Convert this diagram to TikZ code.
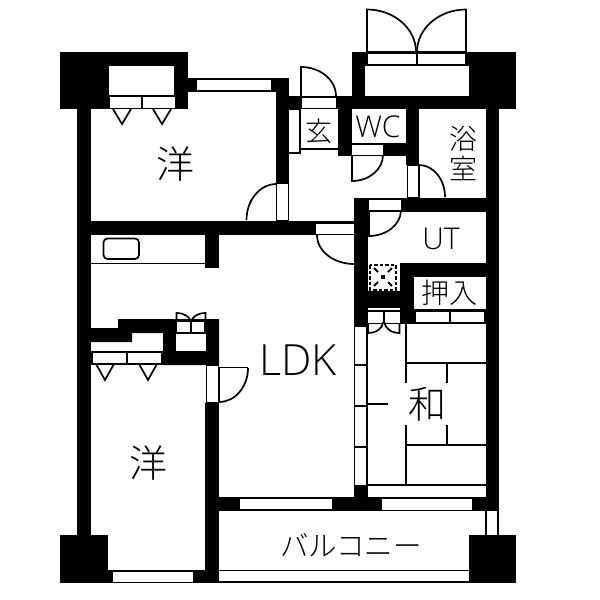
\documentclass[tikz,border=0pt]{standalone}
\usepackage{fontspec}
\newfontfamily\cjk{Noto Sans CJK JP Light}
\newfontfamily\latn{Open Sans Light}
\usepackage{tikz}

\tikzset{
  wall/.style={fill=black},
  gap/.style={fill=white},
  fit line/.style={draw=black,line width=1.5pt,fill=white},
  thin wall/.style={draw=black,line width=1.7pt},
  roomlabel/.style={inner sep=0pt,text=black}
}
\newcommand{\lblsize}[1]{\cjk\fontsize{#1}{#1}\selectfont}
\newcommand{\latsize}[1]{\latn\fontsize{#1}{#1}\selectfont}

\begin{document}
\begin{tikzpicture}[x=1pt,y=-1pt]
\useasboundingbox (0,0) rectangle (600,600);
\fill[white] (0,0) rectangle (600,600);
% walls
\fill[wall] (60,52) rectangle (188,109);
\fill[wall] (77,109) rectangle (91,535);
\fill[wall] (188,78) rectangle (289,92);
\fill[wall] (276,78) rectangle (289,222);
\fill[wall] (289,96) rectangle (352,109);
\fill[wall] (338,109) rectangle (352,156);
\fill[wall] (352,143) rectangle (406,156);
\fill[wall] (352,52) rectangle (516,109);
\fill[wall] (406,109) rectangle (419,165);
\fill[wall] (486,109) rectangle (499,511);
\fill[wall] (354,198) rectangle (486,212);
\fill[wall] (354,198) rectangle (368,326);
\fill[wall] (91,221) rectangle (354,235);
\fill[wall] (205,235) rectangle (219,268);
\fill[wall] (400,263) rectangle (486,277);
\fill[wall] (400,263) rectangle (414,324);
\fill[wall] (368,291) rectangle (400,324);
\fill[wall] (414,309) rectangle (486,324);
\fill[wall] (354,486) rectangle (368,497);
\fill[wall] (218,497) rectangle (499,511);
\fill[wall] (205,403) rectangle (219,583);
\fill[wall] (60,535) rectangle (108,583);
\fill[wall] (108,570) rectangle (205,583);
\fill[wall] (469,535) rectangle (516,582);
\fill[wall] (91,328) -- (118,328) -- (118,319) -- (219,319) -- (219,365) -- (163,365) -- (163,333) -- (132,333) -- (132,342) -- (91,342) -- cycle;
\fill[wall] (91,351) rectangle (163,365);
% closets and windows
\fill[gap] (108.5,66) rectangle (174,95);
\fill[gap] (110,97) rectangle (141,108);
\fill[gap] (143,97) rectangle (175,108);
\fill[gap] (197,80) rectangle (271,90);
\fill[gap] (365,66) rectangle (469,96);
\fill[gap] (367.5,53.5) rectangle (416,64);
\fill[gap] (418,53.5) rectangle (465,64);
\fill[gap] (351.5,109) rectangle (406,142);
\fill[gap] (352,144.5) rectangle (383,155);
\fill[gap] (301.5,98) rectangle (336,107.5);
\fill[gap] (277,184) rectangle (288,220);
\fill[gap] (369,200) rectangle (401,210);
\fill[gap] (316,224) rectangle (354,234);
\fill[gap] (414,277) rectangle (486,309);
\fill[gap] (415.5,311.5) rectangle (449,322);
\fill[gap] (450.5,311.5) rectangle (484,322);
\fill[gap] (368,307.5) rectangle (399.5,310);
\fill[gap] (368,311.5) rectangle (383,323);
\fill[gap] (384.5,311.5) rectangle (399.5,323);
\fill[gap] (177,321.5) rectangle (190,332);
\fill[gap] (191.5,321.5) rectangle (204,332);
\fill[gap] (176,333.5) rectangle (205.5,351);
\fill[gap] (240,499) rectangle (332,509);
\fill[gap] (382,499) rectangle (472,510);
\fill[gap] (113,571.5) rectangle (193,581.5);
\fill[gap] (93,352.5) rectangle (126,363);
\fill[gap] (127.5,352.5) rectangle (161,363);
% fittings
\draw[fit line] (289,109) -- (300,109) -- (300,153) -- (289,153);
\draw[thin wall] (300,149) -- (338,149);
\draw[fit line] (354.7,326) rectangle (367,486);
\draw[fit line] (407.5,165) rectangle (419,198);
\draw[fit line] (206.5,365) rectangle (218.5,403);
\foreach \y in {365,406,447} {
  \draw[thin wall] (355,\y) -- (367,\y);
}
\draw[thin wall] (367,404) -- (388,404);
\draw[thin wall] (91,263.5) -- (205,263.5);
\draw[line width=1.7pt,rounded corners=4pt] (103.5,238.5) rectangle (139,259);
\draw[thin wall] (367,485) -- (486,485);
\draw[thin wall] (406,324) -- (406,383);
\draw[thin wall] (406,425) -- (406,485);
\draw[thin wall] (406,363) -- (486,363);
\draw[thin wall] (406,445) -- (486,445);
\draw[thin wall] (447,363) -- (447,383);
\draw[thin wall] (447,425) -- (447,445);
\draw[thin wall] (219,570.5) -- (469,570.5);
\draw[thin wall] (219,582) -- (516,582);
\draw[thin wall] (486,511) -- (486,535);
\draw[thin wall] (498,511) -- (498,535);
% closet door leaves
\foreach \x in {113,153} {
  \draw[thin wall] (\x,109) -- (\x+9,124) -- (\x+18,109);
}
\foreach \x in {96,139} {
  \draw[thin wall] (\x,364) -- (\x+9,380) -- (\x+18,364);
}
% door swings
\draw[thin wall] (367,52) -- (466,52);
\draw[thin wall] (367,52) -- (367,9.5) arc (270:360:49 and 42.5);
\draw[thin wall] (466,52) -- (466,9.5) arc (270:180:49 and 42.5);
\draw[thin wall] (416.5,52) -- (416.5,64);
\draw[thin wall] (301,96) -- (301,67) arc (270:360:35 and 29);
\draw[thin wall] (276.5,184) arc (270:180:30 and 36);
\draw[thin wall] (352,155) -- (352,181) arc (90:0:31 and 26);
\draw[thin wall] (419,165) arc (270:360:26 and 32);
\draw[thin wall] (369,210) -- (369,236) arc (90:0:32 and 26);
\draw[thin wall] (317,235) arc (180:90:37 and 29);
\draw[thin wall] (219,368) -- (219,402) arc (90:0:29 and 34);
\draw[thin wall] (219,367.5) -- (248,367.5);
\draw[thin wall] (368,323) -- (368,333) arc (90:0:15 and 11);
\draw[thin wall] (399.5,323) -- (399.5,333) arc (90:180:15 and 11);
\draw[thin wall] (176.5,319) -- (176.5,313) arc (270:360:14 and 9);
\draw[thin wall] (205.5,319) -- (205.5,313) arc (270:180:14 and 9);
% pipe shaft
\draw[line width=2pt,dash pattern=on 3.5pt off 2pt] (370,265) rectangle (396,289.5);
\foreach \sx/\sy in {1/1,-1/1,1/-1,-1/-1} {
  \draw[line width=2pt] (383+5*\sx,277+5*\sy) -- (383+9*\sx,277+9*\sy);
}
\fill (381,275) rectangle (385,279);
% labels
\node[roomlabel] (room1) at (175,164) {\lblsize{38}洋};
\node[roomlabel] (room2) at (148,463) {\lblsize{38}洋};
\node[roomlabel] (ldk) at (298,360) {\latsize{43}LDK};
\node[roomlabel] (japan) at (427,404) {\lblsize{38}和};
\node[roomlabel] (ut) at (441,239) {\latsize{30}UT};
\node[roomlabel] (closet) at (449,293) {\lblsize{28}押入};
\node[roomlabel] (bath1) at (463,139) {\lblsize{28}浴};
\node[roomlabel] (bath2) at (463,168) {\lblsize{28}室};
\node[roomlabel] (entry) at (319,131) {\lblsize{27}玄};
\node[roomlabel] (wc) at (378,127) {\latsize{30}WC};
\node[roomlabel] (balcony) at (351,545) {\lblsize{28.5}バルコニー};
\end{tikzpicture}
\end{document}
